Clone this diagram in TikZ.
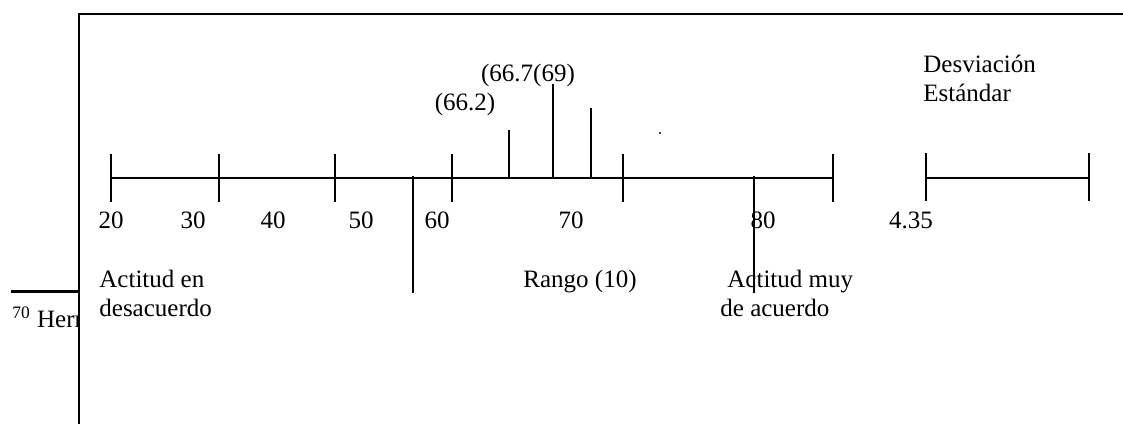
\documentclass[tikz,border=0pt]{standalone}
\usepackage{fontspec}
\setmainfont{Liberation Serif}
\usetikzlibrary{positioning}

\begin{document}
\begin{tikzpicture}[x=0.5pt, y=-0.5pt,
        axis/.style={line width=1pt, black},
        txt/.style={font=\fontsize{12.5}{14.5}\selectfont, inner sep=0pt},
        num/.style={txt, anchor=base},
        note/.style={txt, anchor=north west, align=left}
    ]
    \useasboundingbox (0,0) rectangle (1123,424);

    % footnote rule and mark, partly hidden by the frame
    \coordinate (fnl) at (11,291);
    \coordinate (fnr) at (79,291);
    \draw[line width=1.5pt] (fnl) -- (fnr);
    \node[txt, anchor=base west] (fn) at (12,327) {\textsuperscript{70} Hern};

    % white frame
    \fill[white] (79,14) rectangle (1123,424);
    \draw[axis] (79,424) -- (79,14) -- (1123,14);

    % scale
    \coordinate (s20) at (111,178);
    \coordinate (s85) at (833,178);
    \draw[axis] (s20) -- (s85);
    \foreach \x in {111, 219, 335, 452, 623, 833}
        \draw[axis] (\x,154) -- (\x,202);

    % mean, median and mode marks
    \draw[axis] (509,130) -- (509,178);
    \draw[axis] (553,84) -- (553,178);
    \draw[axis] (591,108) -- (591,178);
    \fill (660,133) circle (1.2);

    % range limits
    \draw[axis] (413,176) -- (413,293);
    \draw[axis] (754,176) -- (754,293);

    \node[num] (n20) at (111,228) {20};
    \node[num] (n30) at (193,228) {30};
    \node[num] (n40) at (273,228) {40};
    \node[num] (n50) at (361,228) {50};
    \node[num] (n60) at (437,228) {60};
    \node[num] (n70) at (571,228) {70};
    \node[num] (n80) at (763,228) {80};

    \node[num] (m1) at (465,110) {(66.2)};
    \node[num] (m2) at (528,81) {(66.7(69)};

    \node[num] (rng) at (580,287) {Rango (10)};
    \node[note] (neg) at (99,270) {Actitud en\\desacuerdo};
    \node[note] (pos) at (720,270) {\hspace*{3.5pt}Actitud muy\\de acuerdo};

    % standard deviation bar
    \coordinate (d0) at (926,178);
    \coordinate (d1) at (1089,178);
    \draw[axis] (d0) -- (d1);
    \draw[axis] (926,153) -- (926,201);
    \draw[axis] (1089,153) -- (1089,201);
    \node[num] (sd) at (911,228) {4.35};
    \node[note] (sdl) at (923,55) {Desviación\\Estándar};

\end{tikzpicture}
\end{document}
